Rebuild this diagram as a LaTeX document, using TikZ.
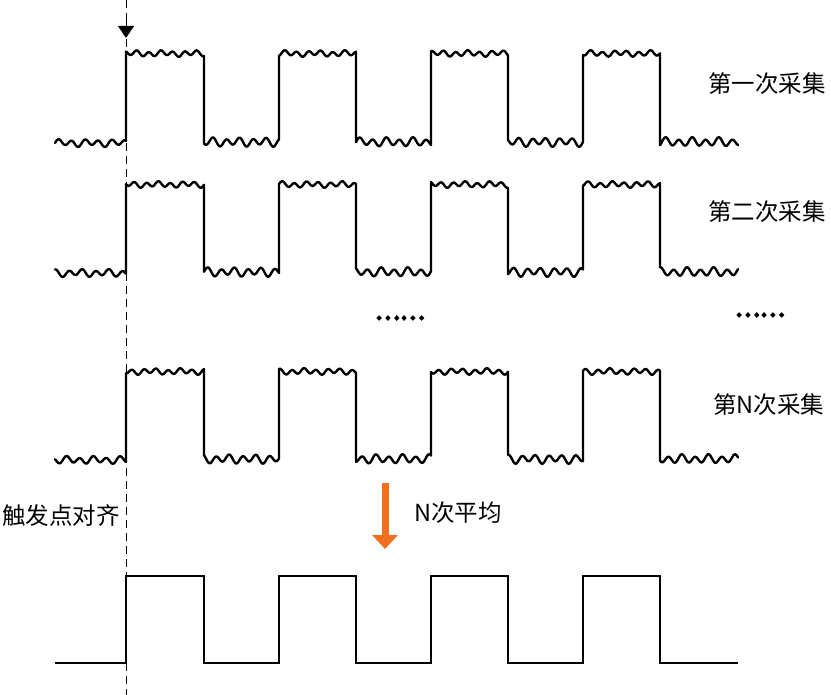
\documentclass[tikz,border=0pt]{standalone}
\usepackage{fontspec}
\setmainfont{Noto Sans CJK SC}
\newfontfamily\dotfont[FakeBold=7]{Noto Sans CJK SC}
\usetikzlibrary{arrows.meta}
\definecolor{avgorange}{RGB}{240, 112, 30}

\tikzset{
  wave/.style={line width=2.4pt, line join=round, line cap=round},
  label/.style={font=\fontsize{23.5pt}{27pt}\selectfont, inner sep=0pt},
  dotlabel/.style={font=\dotfont\fontsize{23.5pt}{27pt}\selectfont, inner sep=0pt},
}

% noisy square wave: #1 high level, #2 low level, #3 phase
\newcommand{\noisywave}[3]{%
  \draw[wave] plot[smooth, domain=0:71, samples=50]
      (55+\x, {#2 - 3*sin(27*\x + #3) - 1.2*sin(13*\x + 2*#3)})
    \foreach \ra/\fa/\nx in {126/204/279, 279/356/431, 431/508/583, 583/660/738} {
      -- plot[smooth, domain=0:\fa-\ra, samples=55]
      (\ra+\x, {#1 + 1.5 - 2.4*sin(30*\x + #3 + \ra) - 1*sin(12*\x + #3)})
      -- plot[smooth, domain=0:\nx-\fa, samples=55]
      (\fa+\x, {#2 - 1 - 3.6*sin(27*\x + 2*#3 + \fa) - 1.3*sin(14*\x + #3)})
    };
}

\begin{document}
\begin{tikzpicture}[x=1pt, y=-1pt]
    \useasboundingbox (0,0) rectangle (831,695);

    % Trigger line
    \coordinate (dtop) at (126,0);
    \coordinate (dbot) at (126,695);
    \draw[line width=1pt, dash pattern=on 8pt off 5pt] (dtop) -- (dbot);
    \coordinate (trigtop) at (126,18);
    \coordinate (trigtip) at (126,38);
    \draw[line width=1pt, -{Triangle[width=16pt, length=12pt]}] (trigtop) -- (trigtip);

    % Acquisitions
    \noisywave{52}{143}{0}
    \node[label, anchor=west] (acq1) at (708,84) {第一次采集};

    \noisywave{183}{273}{70}
    \node[label, anchor=west] (acq2) at (708,212) {第二次采集};

    \node[dotlabel] (dots1) at (400,318) {……};
    \node[dotlabel] (dots2) at (760,315) {……};

    \noisywave{370}{460}{140}
    \node[label, anchor=west] (acqN) at (713,405) {第N次采集};

    % Alignment and averaging
    \node[label, anchor=west] (align) at (2,516) {触发点对齐};
    \coordinate (avgtop) at (385,483);
    \coordinate (avgtip) at (385,549);
    \draw[avgorange, line width=7pt, -{Triangle[width=25pt, length=14pt]}] (avgtop) -- (avgtip);
    \node[label, anchor=west] (avg) at (414,513) {N次平均};

    % Averaged result
    \draw[wave, line cap=butt, line join=miter] (55,663) -- (126,663)
      \foreach \ra/\fa/\nx in {126/204/279, 279/356/431, 431/508/583, 583/660/738} {
        -- (\ra,576) -- (\fa,576) -- (\fa,663) -- (\nx,663)
      };
\end{tikzpicture}
\end{document}
